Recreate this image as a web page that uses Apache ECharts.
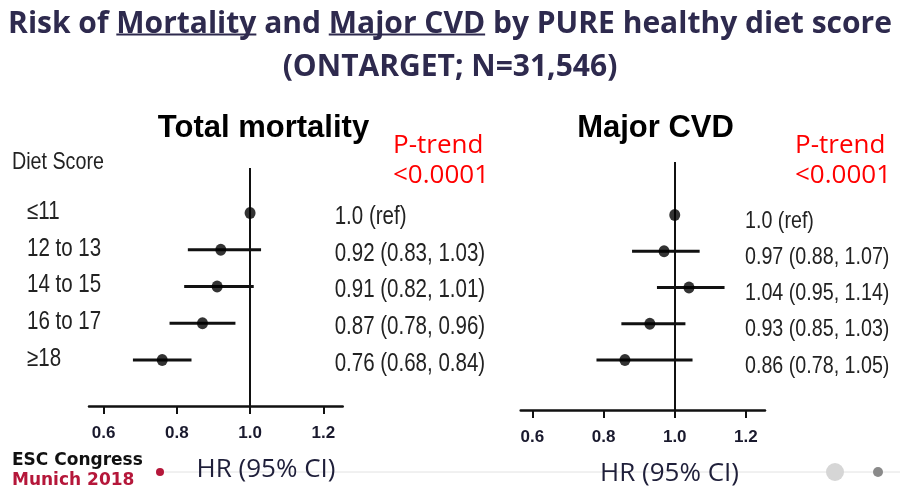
<!DOCTYPE html>
<html>
<head>
<meta charset="utf-8">
<script src="https://cdn.jsdelivr.net/npm/echarts@6/dist/echarts.min.js"></script>
<style>html,body{margin:0;padding:0;background:#fff;}#c{width:900px;height:497px;}</style>
</head>
<body>
<div id="c"></div>
<script>
// ---- data ----
const dietScores = ['≤11', '12 to 13', '14 to 15', '16 to 17', '≥18'];
const mortHR = [1.0, 0.92, 0.91, 0.87, 0.76];
const mortLo = [null, 0.83, 0.82, 0.78, 0.68];
const mortHi = [null, 1.03, 1.01, 0.96, 0.84];
const mortText = ['1.0 (ref)', '0.92 (0.83, 1.03)', '0.91 (0.82, 1.01)', '0.87 (0.78, 0.96)', '0.76 (0.68, 0.84)'];
const cvdHR = [1.0, 0.97, 1.04, 0.93, 0.86];
const cvdLo = [null, 0.88, 0.95, 0.85, 0.78];
const cvdHi = [null, 1.07, 1.14, 1.03, 1.05];
const cvdText = ['1.0 (ref)', '0.97 (0.88, 1.07)', '1.04 (0.95, 1.14)', '0.93 (0.85, 1.03)', '0.86 (0.78, 1.05)'];
const tickValues = [0.6, 0.8, 1.0, 1.2];
const rowIdx = [0, 1, 2, 3, 4];
const titleLine1 = 'Risk of Mortality and Major CVD by PURE healthy diet score';
const titleLine2 = '(ONTARGET; N=31,546)';

// ---- styles ----
const SANS = '"Liberation Sans", Arial, sans-serif';
const NARROW_SCALE = 0.82;
const TITLE_COLOR = '#2e2a4e';
const INK = '#111';

const chart = echarts.init(document.getElementById('c'), null, {renderer: 'canvas'});

function ciData(lo, hi) {
  const out = [];
  lo.forEach((v, i) => { if (v != null) out.push([v, hi[i], i]); });
  return out;
}
function ptData(hr) { return hr.map((v, i) => [v, i]); }

function renderCI(params, api) {
  const y = api.value(2);
  const p1 = api.coord([api.value(0), y]);
  const p2 = api.coord([api.value(1), y]);
  return {type: 'line', shape: {x1: p1[0], y1: p1[1], x2: p2[0], y2: p2[1]},
          style: {stroke: INK, lineWidth: 3}};
}

// text labels drawn per row through the row scale, condensed horizontally
function textRenderer(texts, side, dx, dy, fontSize) {
  return function (params, api) {
    const i = api.value(0);
    const cs = params.coordSys;
    const py = api.coord([1, i])[1] + dy;
    const px = side === 'left' ? cs.x + dx : cs.x + cs.width + dx;
    return {type: 'text', x: px, y: py, scaleX: NARROW_SCALE,
      style: {text: texts[i], x: 0, y: 0, align: 'left', verticalAlign: 'middle',
        font: fontSize + 'px ' + SANS, fill: '#222'}};
  };
}

function xAxisCfg(grid, min, max) {
  return {
    type: 'value', gridIndex: grid, min: min, max: max,
    splitLine: {show: false},
    axisLine: {show: true, onZero: false, lineStyle: {color: INK, width: 2.5}},
    axisTick: {show: true, customValues: tickValues, length: 8, lineStyle: {color: INK, width: 2}},
    axisLabel: {show: true, customValues: tickValues, formatter: v => v.toFixed(1),
      fontFamily: SANS, fontWeight: 'bold', fontSize: 17, color: '#1a1a2e', margin: 19}
  };
}
function yAxisCfg(grid, min, max) {
  return {type: 'value', gridIndex: grid, inverse: true, min: min, max: max,
    axisLine: {show: false, onZero: false}, axisTick: {show: false}, splitLine: {show: false},
    axisLabel: {show: false}};
}

// measure text for underlines
const mctx = document.createElement('canvas').getContext('2d');
const TITLE_FONT = 'bold 30px "Open Sans"';
mctx.font = TITLE_FONT;
const wAll = mctx.measureText(titleLine1).width;
const x0 = 450 - wAll / 2;
function span(prefix, word) {
  const a = mctx.measureText(prefix).width;
  const b = mctx.measureText(prefix + word).width;
  return [x0 + a, x0 + b];
}
const uMort = span('Risk of ', 'Mortality');
const uCvd = span('Risk of Mortality and ', 'Major CVD');

const rowData = rowIdx.map(i => [i]);

const option = {
  backgroundColor: '#fff',
  animation: false,
  grid: [
    {left: 89, top: 168, width: 253.7, height: 238},
    {left: 520.7, top: 162, width: 244.3, height: 248}
  ],
  xAxis: [xAxisCfg(0, 0.56, 1.253), xAxisCfg(1, 0.567, 1.2537)],
  yAxis: [yAxisCfg(0, -1.2245, 5.252), yAxisCfg(1, -1.462, 5.379)],
  series: [
    {type: 'custom', xAxisIndex: 0, yAxisIndex: 0, renderItem: renderCI, data: ciData(mortLo, mortHi),
     encode: {x: [0, 1], y: 2}, z: 3, silent: true},
    {type: 'scatter', xAxisIndex: 0, yAxisIndex: 0, data: ptData(mortHR), symbol: 'circle', symbolSize: [11, 12],
     itemStyle: {color: '#000'}, z: 4, silent: true,
     markLine: {silent: true, symbol: 'none', label: {show: false},
       lineStyle: {color: INK, width: 2, type: 'solid'}, data: [{xAxis: 1}], z: 2}},
    {type: 'custom', xAxisIndex: 1, yAxisIndex: 1, renderItem: renderCI, data: ciData(cvdLo, cvdHi),
     encode: {x: [0, 1], y: 2}, z: 3, silent: true},
    {type: 'scatter', xAxisIndex: 1, yAxisIndex: 1, data: ptData(cvdHR), symbol: 'circle', symbolSize: [11, 12],
     itemStyle: {color: '#000'}, z: 4, silent: true,
     markLine: {silent: true, symbol: 'none', label: {show: false},
       lineStyle: {color: INK, width: 2, type: 'solid'}, data: [{xAxis: 1}], z: 2}},
    // row labels & estimate labels
    {type: 'custom', xAxisIndex: 0, yAxisIndex: 0, data: rowData, silent: true, z: 5,
     renderItem: textRenderer(dietScores, 'left', -62, -1, 25)},
    {type: 'custom', xAxisIndex: 0, yAxisIndex: 0, data: rowData, silent: true, z: 5,
     renderItem: textRenderer(mortText, 'right', -8, 4, 25)},
    {type: 'custom', xAxisIndex: 1, yAxisIndex: 1, data: rowData, silent: true, z: 5,
     renderItem: textRenderer(cvdText, 'right', -20, 6, 24)}
  ],
  graphic: [
    // footer line + dots
    {type: 'line', shape: {x1: 160, y1: 472, x2: 900, y2: 472}, style: {stroke: '#e2e2e2', lineWidth: 1}, z: 0, silent: true},
    {type: 'circle', shape: {cx: 160, cy: 472, r: 4}, style: {fill: '#b5173a'}, z: 1, silent: true},
    {type: 'circle', shape: {cx: 835, cy: 472, r: 9}, style: {fill: '#d6d6d6'}, z: 1, silent: true},
    {type: 'circle', shape: {cx: 878, cy: 472, r: 5}, style: {fill: '#8a8a8a'}, z: 1, silent: true},
    // main title
    {type: 'text', x: 450, y: 24, style: {text: titleLine1, font: TITLE_FONT, fill: TITLE_COLOR, align: 'center', verticalAlign: 'middle'}, z: 5},
    {type: 'text', x: 450, y: 67, style: {text: titleLine2, font: TITLE_FONT, fill: TITLE_COLOR, align: 'center', verticalAlign: 'middle'}, z: 5},
    {type: 'line', shape: {x1: uMort[0], y1: 34.5, x2: uMort[1], y2: 34.5}, style: {stroke: TITLE_COLOR, lineWidth: 2}, z: 5},
    {type: 'line', shape: {x1: uCvd[0], y1: 34.5, x2: uCvd[1], y2: 34.5}, style: {stroke: TITLE_COLOR, lineWidth: 2}, z: 5},
    // panel titles
    {type: 'text', x: 263.5, y: 128, style: {text: 'Total mortality', font: 'bold 31px "Liberation Sans"', fill: '#000', align: 'center', verticalAlign: 'middle'}, z: 5},
    {type: 'text', x: 655.5, y: 128, style: {text: 'Major CVD', font: 'bold 31px "Liberation Sans"', fill: '#000', align: 'center', verticalAlign: 'middle'}, z: 5},
    // p-trend
    {type: 'text', x: 393, y: 146, style: {text: 'P-trend', font: '26px "Open Sans"', fill: '#ff0000', align: 'left', verticalAlign: 'middle'}, z: 5},
    {type: 'text', x: 393, y: 176, style: {text: '<0.0001', font: '26px "Open Sans"', fill: '#ff0000', align: 'left', verticalAlign: 'middle'}, z: 5},
    {type: 'text', x: 795, y: 146, style: {text: 'P-trend', font: '26px "Open Sans"', fill: '#ff0000', align: 'left', verticalAlign: 'middle'}, z: 5},
    {type: 'text', x: 795, y: 176, style: {text: '<0.0001', font: '26px "Open Sans"', fill: '#ff0000', align: 'left', verticalAlign: 'middle'}, z: 5},
    // diet score header
    {type: 'text', x: 12, y: 162, scaleX: NARROW_SCALE, style: {text: 'Diet Score', font: '24px ' + SANS, fill: '#222', align: 'left', verticalAlign: 'middle'}, z: 5},
    // HR labels
    {type: 'text', x: 266, y: 470, style: {text: 'HR (95% CI)', font: '26px "Open Sans"', fill: '#1f1f3a', align: 'center', verticalAlign: 'middle'}, z: 5},
    {type: 'text', x: 669.5, y: 474, style: {text: 'HR (95% CI)', font: '26px "Open Sans"', fill: '#1f1f3a', align: 'center', verticalAlign: 'middle'}, z: 5},
    // logo
    {type: 'text', x: 12, y: 461, style: {text: 'ESC Congress', font: 'bold 17px "DejaVu Sans"', fill: '#111', align: 'left', verticalAlign: 'middle'}, z: 5},
    {type: 'text', x: 12, y: 481, style: {text: 'Munich 2018', font: 'bold 17px "DejaVu Sans"', fill: '#b5173a', align: 'left', verticalAlign: 'middle'}, z: 5}
  ]
};
chart.setOption(option);
</script>
</body>
</html>
